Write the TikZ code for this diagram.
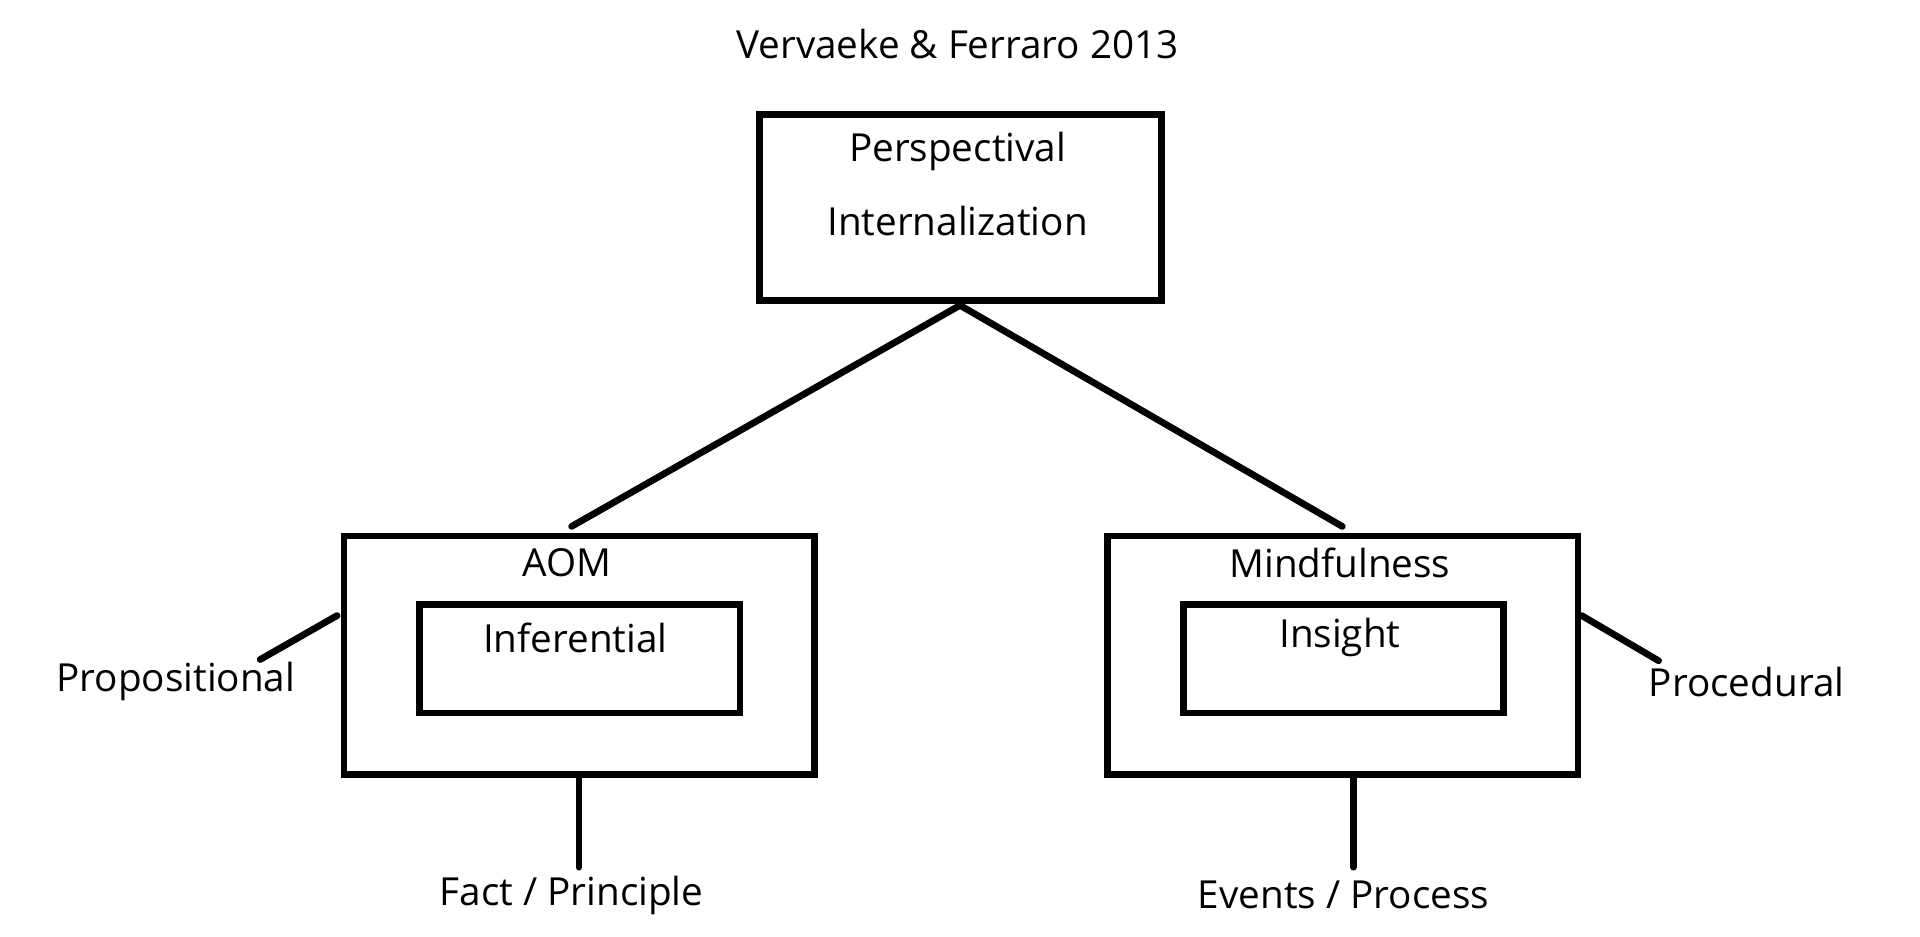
\documentclass[tikz,border=0pt]{standalone}
\usepackage{fontspec}
\setmainfont{Open Sans}
\usetikzlibrary{positioning}
\begin{document}
\begin{tikzpicture}[x=0.01cm,y=-0.01cm]
\tikzstyle{box}=[draw, line width=0.055cm, inner sep=0pt, anchor=north west]
\tikzstyle{lbl}=[font=\fontsize{9}{11}\selectfont, inner sep=0pt]
\tikzstyle{every path}=[line width=0.055cm, line cap=round]
\useasboundingbox (0,0) rectangle (1572,767);
\node[lbl] (title) at (784,36) {Vervaeke \& Ferraro 2013};
% top
\node[box, minimum width=3.29cm, minimum height=1.52cm] (top) at (619,91) {};
\node[lbl] (persp) at (784,124) {Perspectival};
\node[lbl] (intern) at (784,181) {Internalization};
% left
\node[box, minimum width=3.85cm, minimum height=1.95cm] (aom) at (279,436) {};
\node[box, minimum width=2.62cm, minimum height=0.89cm] (infer) at (341,492) {};
\node[lbl] (aomtxt) at (464,461) {AOM};
\node[lbl] (infertxt) at (471,522) {Inferential};
% right
\node[box, minimum width=3.85cm, minimum height=1.95cm] (mind) at (904,436) {};
\node[box, minimum width=2.62cm, minimum height=0.89cm] (insight) at (966,492) {};
\node[lbl] (mindtxt) at (1097,461) {Mindfulness};
\node[lbl] (insighttxt) at (1097,522) {Insight};
% outer labels
\node[lbl] (prop) at (144,558) {Propositional};
\node[lbl] (proc) at (1430,558) {Procedural};
\node[lbl] (fact) at (468,733) {Fact / Principle};
\node[lbl] (event) at (1100,733) {Events / Process};
\coordinate (apex) at (786,250);
\coordinate (aomtop) at (468,431);
\coordinate (mindtop) at (1099,431);
\coordinate (propA) at (213,540);
\coordinate (propB) at (276,504);
\coordinate (procA) at (1295,504);
\coordinate (procB) at (1358,541);
\coordinate (factA) at (474,637);
\coordinate (factB) at (474,710);
\coordinate (eventA) at (1108,637);
\coordinate (eventB) at (1108,710);
\draw (aomtop) -- (apex) -- (mindtop);
\draw (propA) -- (propB);
\draw (procA) -- (procB);
\draw (factA) -- (factB);
\draw (eventA) -- (eventB);
\end{tikzpicture}
\end{document}
